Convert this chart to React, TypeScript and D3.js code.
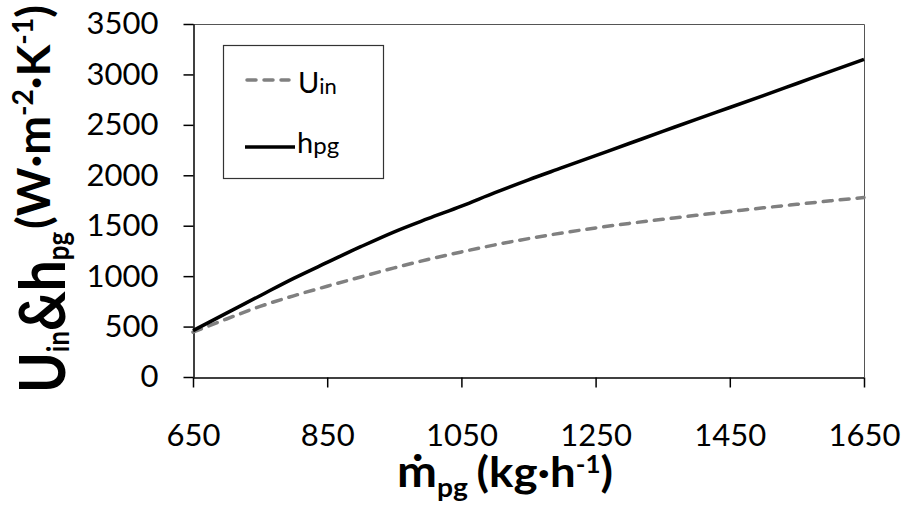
//@ts-nocheck
import React, { useRef, useEffect } from 'react'
import * as d3 from 'd3'

// mass flow of product gas (kg/h)
const massFlow = [650, 700, 750, 800, 850, 900, 950, 1000, 1050, 1100, 1150, 1200, 1250, 1300, 1350, 1400, 1450, 1500, 1550, 1600, 1650]
// h_pg (W m-2 K-1)
const hPg = [460, 633, 806, 978, 1136, 1292, 1440, 1570, 1695, 1828, 1955, 2075, 2195, 2315, 2435, 2555, 2672, 2790, 2910, 3030, 3150]
// U_in (W m-2 K-1)
const uIn = [445, 575, 700, 805, 900, 992, 1082, 1165, 1240, 1310, 1372, 1428, 1478, 1523, 1563, 1603, 1640, 1677, 1712, 1747, 1780]

const xTicks = [650, 850, 1050, 1250, 1450, 1650]
const yTicks = [0, 500, 1000, 1500, 2000, 2500, 3000, 3500]

const FONT = "Lato, 'Open Sans', sans-serif"

const App = () => {
  const node = useRef<SVGSVGElement | null>(null)

  useEffect(() => {
    const width = 906
    const height = 515
    const margin = { top: 24, right: 42, bottom: 138, left: 193 }

    const svg = d3.select(node.current)
    svg.selectAll('*').remove()
    svg.attr('width', width).attr('height', height)

    const x = d3
      .scaleLinear()
      .domain([650, 1650])
      .range([margin.left, width - margin.right])
    const y = d3
      .scaleLinear()
      .domain([0, 3500])
      .range([height - margin.bottom, margin.top])

    svg.append('rect').attr('width', width).attr('height', height).attr('fill', '#fff')

    // plot area border (top / right)
    svg
      .append('path')
      .attr('d', `M${x(650)},${y(3500) + 0.5}H${x(1650) + 0.5}V${y(0)}`)
      .attr('fill', 'none')
      .attr('stroke', '#555')
      .attr('stroke-width', 1)

    const yAxis = (g) =>
      g
        .attr('transform', `translate(${x(650) + 0.5},0)`)
        .call(d3.axisLeft(y).tickValues(yTicks).tickFormat(d3.format('d')).tickSize(10).tickSizeOuter(0).tickPadding(25))
        .call((g) => g.selectAll('line, path').attr('stroke', '#000').attr('stroke-width', 1.5))
        .call((g) => g.selectAll('text').attr('font-family', FONT).attr('font-size', 31).attr('fill', '#000'))

    const xAxis = (g) =>
      g
        .attr('transform', `translate(0,${y(0) + 0.5})`)
        .call(d3.axisBottom(x).tickValues(xTicks).tickFormat(d3.format('d')).tickSize(10).tickSizeOuter(0).tickPadding(36))
        .call((g) => g.selectAll('line, path').attr('stroke', '#000').attr('stroke-width', 1.5))
        .call((g) => g.selectAll('text').attr('font-family', FONT).attr('font-size', 31).attr('fill', '#000'))

    svg.append('g').call(yAxis)
    svg.append('g').call(xAxis)

    const line = d3
      .line()
      .curve(d3.curveMonotoneX)
      .x((d) => x(d[0]))
      .y((d) => y(d[1]))

    svg
      .append('path')
      .attr('d', line(massFlow.map((m, i) => [m, uIn[i]])))
      .attr('fill', 'none')
      .attr('stroke', '#808080')
      .attr('stroke-width', 3.5)
      .attr('stroke-dasharray', '9,8')
      .attr('stroke-linecap', 'round')

    svg
      .append('path')
      .attr('d', line(massFlow.map((m, i) => [m, hPg[i]])))
      .attr('fill', 'none')
      .attr('stroke', '#000')
      .attr('stroke-width', 3.5)

    // legend
    const lg = svg.append('g').attr('font-family', FONT).attr('fill', '#000')
    lg.append('rect')
      .attr('x', 223.5)
      .attr('y', 45.5)
      .attr('width', 160)
      .attr('height', 133)
      .attr('fill', '#fff')
      .attr('stroke', '#333')
      .attr('stroke-width', 1.2)
    lg.append('line')
      .attr('x1', 247).attr('x2', 289).attr('y1', 80).attr('y2', 80)
      .attr('stroke', '#808080').attr('stroke-width', 3.5)
      .attr('stroke-dasharray', '9,8').attr('stroke-linecap', 'round')
    lg.append('line')
      .attr('x1', 245).attr('x2', 295).attr('y1', 147).attr('y2', 147)
      .attr('stroke', '#000').attr('stroke-width', 3.5)
    const t1 = lg.append('text').attr('x', 298).attr('y', 93).attr('font-size', 29)
    t1.append('tspan').text('U')
    t1.append('tspan').attr('font-size', 22).attr('dy', 1).text('in')
    const t2 = lg.append('text').attr('x', 297).attr('y', 153).attr('font-size', 29)
    t2.append('tspan').text('h')
    t2.append('tspan').attr('font-size', 24).attr('dy', 1).text('pg')

    // y title: symbols part
    const yt = svg
      .append('text')
      .attr('transform', 'translate(65,393) rotate(-90)')
      .attr('font-family', FONT)
      .attr('font-weight', 'bold')
      .attr('fill', '#000')
      .attr('textLength', 161)
      .attr('lengthAdjust', 'spacingAndGlyphs')
    yt.append('tspan').attr('font-size', 64).text('U')
    yt.append('tspan').attr('font-size', 30).attr('dy', 4).text('in')
    yt.append('tspan').attr('font-size', 64).attr('dy', -4).text('&h')
    yt.append('tspan').attr('font-size', 30).attr('dy', 4).text('pg')

    // y title: units part
    const yu = svg
      .append('text')
      .attr('transform', 'translate(50,229) rotate(-90)')
      .attr('font-family', FONT)
      .attr('font-weight', 'bold')
      .attr('fill', '#000')
      .attr('textLength', 224)
      .attr('lengthAdjust', 'spacingAndGlyphs')
    yu.append('tspan').attr('font-size', 46).text('(W·m')
    yu.append('tspan').attr('font-size', 28).attr('dy', -17).text('-2')
    yu.append('tspan').attr('font-size', 46).attr('dy', 17).text('·K')
    yu.append('tspan').attr('font-size', 28).attr('dy', -17).text('-1')
    yu.append('tspan').attr('font-size', 46).attr('dy', 17).text(')')

    // x title
    const xt = svg
      .append('text')
      .attr('x', 397)
      .attr('y', 487)
      .attr('font-family', FONT)
      .attr('font-weight', 'bold')
      .attr('fill', '#000')
      .attr('textLength', 216)
      .attr('lengthAdjust', 'spacingAndGlyphs')
    xt.append('tspan').attr('font-size', 44).text('ṁ')
    xt.append('tspan').attr('font-size', 26).attr('dy', 10).text('pg')
    xt.append('tspan').attr('font-size', 42).attr('dy', -10).attr('dx', 8).text('(kg·h')
    xt.append('tspan').attr('font-size', 24).attr('dy', -14).text('-1')
    xt.append('tspan').attr('font-size', 42).attr('dy', 14).text(')')
  }, [])

  return <svg ref={node} style={{ position: 'absolute', left: 0, top: 0 }}></svg>
}

export default App
